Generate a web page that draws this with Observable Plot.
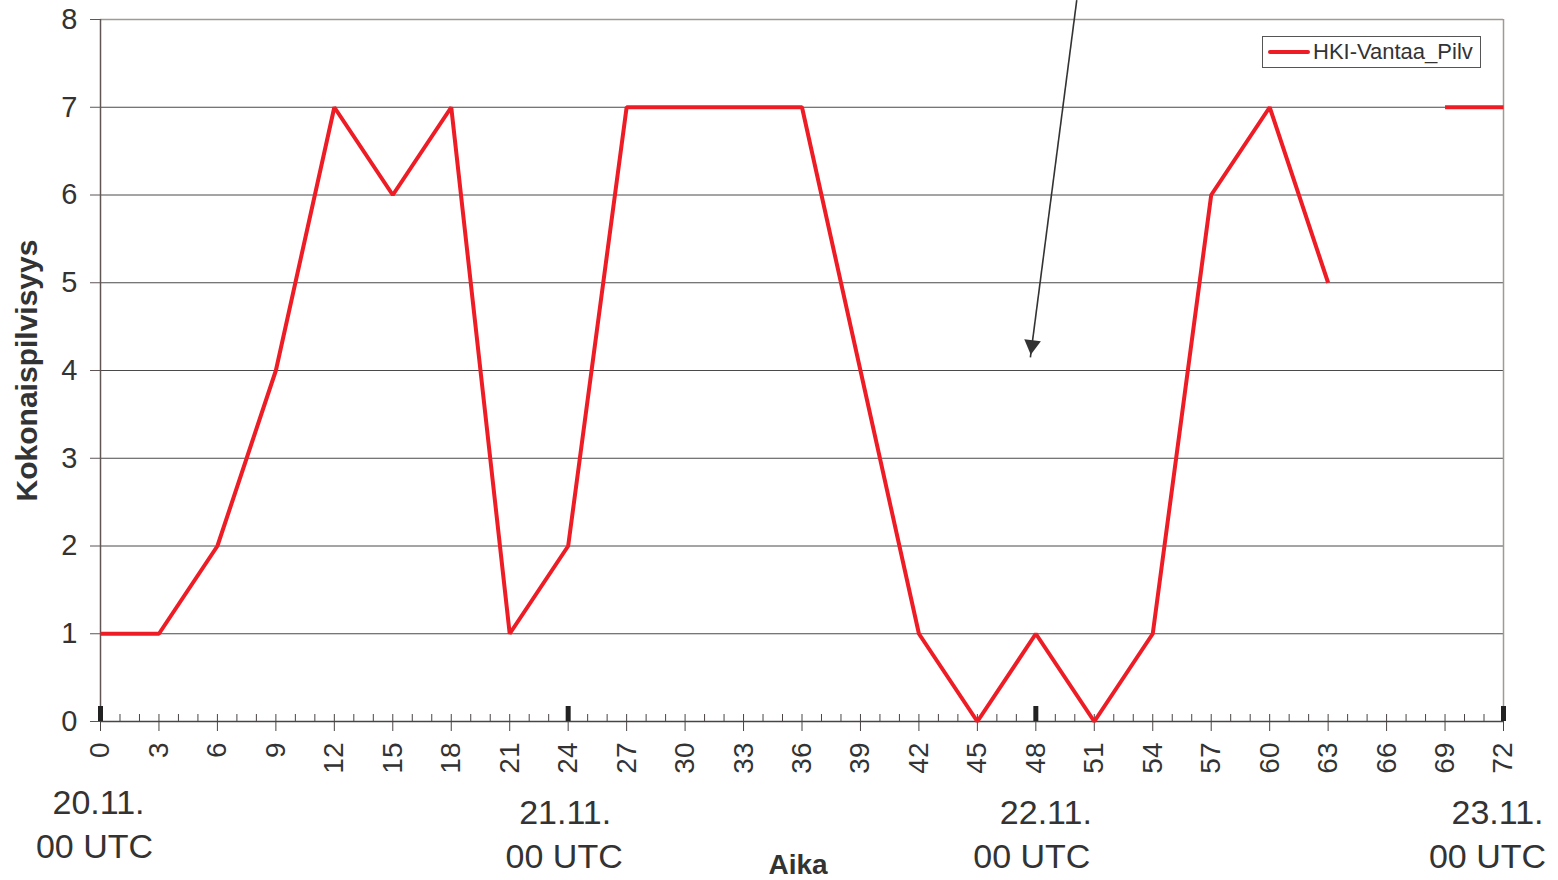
<!DOCTYPE html>
<html>
<head>
<meta charset="utf-8">
<script src="https://cdn.jsdelivr.net/npm/d3@7"></script>
<script src="https://cdn.jsdelivr.net/npm/@observablehq/plot@0.6"></script>
<style>
  body { margin: 0; background: #fff; }
  #wrap { position: relative; width: 1558px; height: 880px; }
  svg { font-family: "Liberation Sans", Arial, sans-serif; }
  #legend {
    position: absolute; left: 1262px; top: 36px; width: 219px; height: 32px;
    border: 1px solid #555; background: #fff; box-sizing: border-box;
    display: flex; align-items: center; padding-left: 5px;
    font-family: "Liberation Sans", Arial, sans-serif; font-size: 22px; color: #333;
  }
  #legend .swatch { width: 42px; height: 4px; background: #ee1c25; margin-right: 3px; border-radius: 2px; }
</style>
</head>
<body>
<div id="wrap">
  <div id="chart"></div>
  <div id="legend"><span class="swatch"></span><span id="legend-text"></span></div>
</div>
<script>
// Forecast hour (0–72) and total cloud cover in oktas; 66 h has no value.
const hours = [0, 3, 6, 9, 12, 15, 18, 21, 24, 27, 30, 33, 36, 39, 42, 45, 48, 51, 54, 57, 60, 63, 66, 69, 72];
const cloudCover = [1, 1, 2, 4, 7, 6, 7, 1, 2, 7, 7, 7, 7, 4, 1, 0, 1, 0, 1, 6, 7, 5, null, 7, 7];
const seriesName = "HKI-Vantaa_Pilv";

const yTicks = [0, 1, 2, 3, 4, 5, 6, 7, 8];
const xTicks = d3.range(0, 73, 3);
const hourTicks = d3.range(0, 73, 1);
const dayHours = [0, 24, 48, 72];
const dayLabels = ["20.11.", "21.11.", "22.11.", "23.11."];
const timeLabel = "00 UTC";
const xTitle = "Aika";
const yTitle = "Kokonaispilvisyys";

// Annotation arrow (start and tip, in hours / oktas)
const arrowFrom = {x: 50.1, y: 8.22};
const arrowTo = {x: 47.72, y: 4.15};

const data = hours.map((h, i) => ({hour: h, value: cloudCover[i]}));

const red = "#ee1c25";
const ink = "#333";
const dateSize = 34;

const chart = Plot.plot({
  width: 1558,
  height: 880,
  marginLeft: 100,
  marginRight: 55,
  marginTop: 19,
  marginBottom: 159,
  x: {domain: [0, 72]},
  y: {domain: [0, 8]},
  style: {color: ink, background: "#fff"},
  marks: [
    // horizontal grid lines
    Plot.ruleY(yTicks.slice(1, 8), {stroke: "#4a4a4a", strokeWidth: 1}),
    // plot frame (top and right)
    Plot.ruleY([8], {stroke: "#a39797", strokeWidth: 1.5}),
    Plot.ruleX([72], {stroke: "#a39797", strokeWidth: 1.5}),
    // y axis
    Plot.ruleX([0], {stroke: "#5f5555", strokeWidth: 1.5}),
    Plot.axisY({ticks: yTicks, tickSize: 10, tickPadding: 13, fontSize: 29, tickFormat: d3.format("d"), label: null, stroke: "#5f5555"}),
    // x axis: major ticks below, hourly ticks above, day markers
    Plot.ruleY([0], {stroke: "#4a4444", strokeWidth: 1.5}),
    Plot.axisX({ticks: xTicks, tickSize: 10, tickPadding: 11, tickRotate: -90, fontSize: 28, tickFormat: d3.format("d"), label: null, stroke: "#4a4444"}),
    Plot.axisX({ticks: hourTicks, tickSize: 7, dy: -7, text: null, label: null, stroke: "#4a4444"}),
    Plot.axisX({ticks: dayHours, tickSize: 15, dy: -15, text: null, label: null, stroke: "#222", strokeWidth: 5}),
    // day labels under the axis
    Plot.text([dayHours[0]], {x: d => d, text: () => dayLabels[0], frameAnchor: "bottom", dy: 92, dx: -2, fontSize: dateSize, fill: ink}),
    Plot.text([dayHours[0]], {x: d => d, text: () => timeLabel, frameAnchor: "bottom", dy: 136, dx: -6, fontSize: dateSize, fill: ink}),
    Plot.text([dayHours[1]], {x: d => d, text: () => dayLabels[1], frameAnchor: "bottom", dy: 102, dx: -3, fontSize: dateSize, fill: ink}),
    Plot.text([dayHours[1]], {x: d => d, text: () => timeLabel, frameAnchor: "bottom", dy: 146, dx: -4, fontSize: dateSize, fill: ink}),
    Plot.text([dayHours[2]], {x: d => d, text: () => dayLabels[2], frameAnchor: "bottom", dy: 102, dx: 10, fontSize: dateSize, fill: ink}),
    Plot.text([dayHours[2]], {x: d => d, text: () => timeLabel, frameAnchor: "bottom", dy: 146, dx: -4, fontSize: dateSize, fill: ink}),
    Plot.text([dayHours[3]], {x: d => d, text: () => dayLabels[3], frameAnchor: "bottom", dy: 102, dx: -6, fontSize: dateSize, fill: ink}),
    Plot.text([dayHours[3]], {x: d => d, text: () => timeLabel, frameAnchor: "bottom", dy: 146, dx: -16, fontSize: dateSize, fill: ink}),
    // axis titles
    Plot.text([xTitle], {frameAnchor: "bottom", text: d => d, dy: 152, dx: -4, fontSize: 28, fontWeight: "bold", fill: ink}),
    Plot.text([yTitle], {frameAnchor: "left", textAnchor: "middle", text: d => d, rotate: -90, dx: -73, fontSize: 30, fontWeight: "bold", fill: ink}),
    // cloud cover series
    Plot.line(data, {x: "hour", y: "value", stroke: red, strokeWidth: 4, strokeLinejoin: "miter", strokeLinecap: "butt"}),
    // annotation arrow
    Plot.link([0], {x1: () => arrowFrom.x, y1: () => arrowFrom.y, x2: () => arrowTo.x, y2: () => arrowTo.y, stroke: "#333", strokeWidth: 1.6, clip: false}),
    Plot.dot([0], {x: () => arrowTo.x, y: () => arrowTo.y, symbol: "triangle2", r: 8, fill: "#333", stroke: "none", rotate: 187.3, dx: 1.6, dy: -12.3})
  ]
});

d3.select(chart).style("overflow", "visible");
document.getElementById("chart").append(chart);
document.getElementById("legend-text").textContent = seriesName;
</script>
</body>
</html>
